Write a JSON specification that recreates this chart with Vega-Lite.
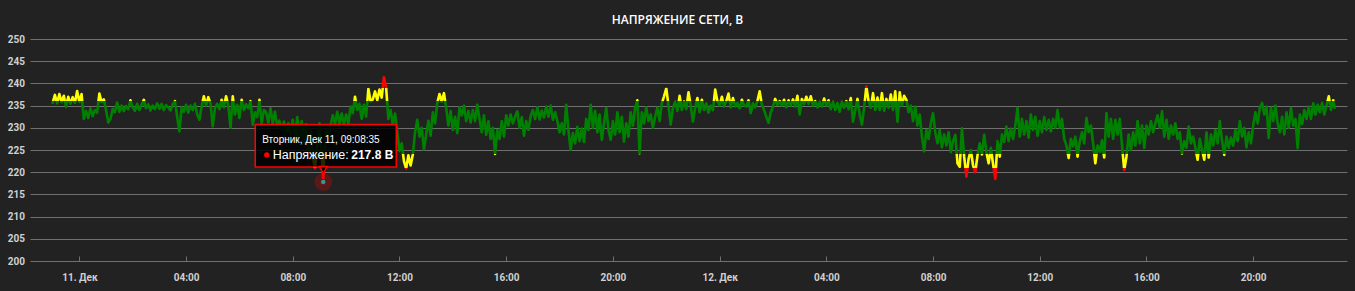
{
  "$schema": "https://vega.github.io/schema/vega-lite/v6.json",
  "width": 1317,
  "height": 222,
  "autosize": "none",
  "padding": {"left": 30, "top": 39, "right": 8, "bottom": 30},
  "background": "#222222",
  "title": {"text": "НАПРЯЖЕНИЕ СЕТИ, В", "font": "Open Sans", "fontSize": 12, "fontWeight": 600, "color": "#ffffff", "anchor": "middle", "frame": "group", "offset": 7, "dx": -11},
  "config": {
    "view": {"stroke": null},
    "axis": {"labelFont": "Roboto", "labelFontSize": 10, "labelFontWeight": "bold", "labelColor": "#d0d0d0", "title": null}
  },
  "datasets": {
    "hover": [{"t": "2018-12-11T09:08:35", "v": 217.8}],
    "voltage": [
{"t":"2018-12-10T23:00","v":235.6},{"t":"2018-12-10T23:05","v":237.4},{"t":"2018-12-10T23:10","v":235.5},{"t":"2018-12-10T23:15","v":237.6},{"t":"2018-12-10T23:20","v":235.8},{"t":"2018-12-10T23:25","v":237.2},{"t":"2018-12-10T23:30","v":234.7},{"t":"2018-12-10T23:35","v":237.0},{"t":"2018-12-10T23:40","v":235.4},{"t":"2018-12-10T23:45","v":236.9},{"t":"2018-12-10T23:50","v":235.6},{"t":"2018-12-10T23:55","v":238.3},
{"t":"2018-12-11T00:00","v":235.8},{"t":"2018-12-11T00:05","v":237.6},{"t":"2018-12-11T00:10","v":232.0},{"t":"2018-12-11T00:15","v":233.8},{"t":"2018-12-11T00:20","v":232.2},{"t":"2018-12-11T00:25","v":234.4},{"t":"2018-12-11T00:30","v":232.6},{"t":"2018-12-11T00:35","v":234.0},{"t":"2018-12-11T00:40","v":233.4},{"t":"2018-12-11T00:45","v":237.7},{"t":"2018-12-11T00:50","v":235.8},{"t":"2018-12-11T00:55","v":236.4},
{"t":"2018-12-11T01:00","v":234.0},{"t":"2018-12-11T01:05","v":231.2},{"t":"2018-12-11T01:10","v":232.0},{"t":"2018-12-11T01:15","v":234.3},{"t":"2018-12-11T01:20","v":233.5},{"t":"2018-12-11T01:25","v":235.7},{"t":"2018-12-11T01:30","v":233.6},{"t":"2018-12-11T01:35","v":235.0},{"t":"2018-12-11T01:40","v":233.8},{"t":"2018-12-11T01:45","v":234.9},{"t":"2018-12-11T01:50","v":234.2},{"t":"2018-12-11T01:55","v":236.2},
{"t":"2018-12-11T02:00","v":234.6},{"t":"2018-12-11T02:05","v":233.8},{"t":"2018-12-11T02:10","v":235.4},{"t":"2018-12-11T02:15","v":234.0},{"t":"2018-12-11T02:20","v":235.2},{"t":"2018-12-11T02:25","v":236.3},{"t":"2018-12-11T02:30","v":234.4},{"t":"2018-12-11T02:35","v":235.3},{"t":"2018-12-11T02:40","v":233.9},{"t":"2018-12-11T02:45","v":235.0},{"t":"2018-12-11T02:50","v":234.2},{"t":"2018-12-11T02:55","v":235.5},
{"t":"2018-12-11T03:00","v":234.3},{"t":"2018-12-11T03:05","v":235.4},{"t":"2018-12-11T03:10","v":234.0},{"t":"2018-12-11T03:15","v":235.1},{"t":"2018-12-11T03:20","v":234.6},{"t":"2018-12-11T03:25","v":233.9},{"t":"2018-12-11T03:30","v":235.3},{"t":"2018-12-11T03:35","v":236.0},{"t":"2018-12-11T03:40","v":232.5},{"t":"2018-12-11T03:45","v":229.2},{"t":"2018-12-11T03:50","v":234.6},{"t":"2018-12-11T03:55","v":233.6},
{"t":"2018-12-11T04:00","v":235.2},{"t":"2018-12-11T04:05","v":233.4},{"t":"2018-12-11T04:10","v":235.0},{"t":"2018-12-11T04:15","v":234.0},{"t":"2018-12-11T04:20","v":235.4},{"t":"2018-12-11T04:25","v":233.0},{"t":"2018-12-11T04:30","v":231.8},{"t":"2018-12-11T04:35","v":234.8},{"t":"2018-12-11T04:40","v":237.1},{"t":"2018-12-11T04:45","v":235.0},{"t":"2018-12-11T04:50","v":236.9},{"t":"2018-12-11T04:55","v":235.4},
{"t":"2018-12-11T05:00","v":230.3},{"t":"2018-12-11T05:05","v":234.5},{"t":"2018-12-11T05:10","v":235.4},{"t":"2018-12-11T05:15","v":234.2},{"t":"2018-12-11T05:20","v":236.3},{"t":"2018-12-11T05:25","v":234.6},{"t":"2018-12-11T05:30","v":237.1},{"t":"2018-12-11T05:35","v":235.0},{"t":"2018-12-11T05:40","v":230.0},{"t":"2018-12-11T05:45","v":237.1},{"t":"2018-12-11T05:50","v":233.0},{"t":"2018-12-11T05:55","v":235.2},
{"t":"2018-12-11T06:00","v":232.2},{"t":"2018-12-11T06:05","v":236.3},{"t":"2018-12-11T06:10","v":234.0},{"t":"2018-12-11T06:15","v":235.3},{"t":"2018-12-11T06:20","v":234.4},{"t":"2018-12-11T06:25","v":236.0},{"t":"2018-12-11T06:30","v":230.7},{"t":"2018-12-11T06:35","v":233.5},{"t":"2018-12-11T06:40","v":232.4},{"t":"2018-12-11T06:45","v":236.3},{"t":"2018-12-11T06:50","v":231.0},{"t":"2018-12-11T06:55","v":234.0},
{"t":"2018-12-11T07:00","v":233.5},{"t":"2018-12-11T07:05","v":231.2},{"t":"2018-12-11T07:10","v":234.4},{"t":"2018-12-11T07:15","v":231.0},{"t":"2018-12-11T07:20","v":233.6},{"t":"2018-12-11T07:25","v":230.2},{"t":"2018-12-11T07:30","v":231.6},{"t":"2018-12-11T07:35","v":229.6},{"t":"2018-12-11T07:40","v":231.4},{"t":"2018-12-11T07:45","v":229.0},{"t":"2018-12-11T07:50","v":231.0},{"t":"2018-12-11T07:55","v":228.5},
{"t":"2018-12-11T08:00","v":231.8},{"t":"2018-12-11T08:05","v":227.5},{"t":"2018-12-11T08:10","v":232.4},{"t":"2018-12-11T08:15","v":228.0},{"t":"2018-12-11T08:20","v":231.5},{"t":"2018-12-11T08:25","v":226.4},{"t":"2018-12-11T08:30","v":230.8},{"t":"2018-12-11T08:35","v":225.0},{"t":"2018-12-11T08:40","v":229.5},{"t":"2018-12-11T08:45","v":223.5},{"t":"2018-12-11T08:50","v":220.9},{"t":"2018-12-11T08:55","v":226.0},
{"t":"2018-12-11T09:00","v":231.0},{"t":"2018-12-11T09:05","v":224.0},{"t":"2018-12-11T09:08:35","v":217.8},{"t":"2018-12-11T09:10","v":223.0},{"t":"2018-12-11T09:15","v":229.5},{"t":"2018-12-11T09:20","v":227.0},{"t":"2018-12-11T09:25","v":230.5},{"t":"2018-12-11T09:30","v":232.8},{"t":"2018-12-11T09:35","v":230.8},{"t":"2018-12-11T09:40","v":233.6},{"t":"2018-12-11T09:45","v":231.0},{"t":"2018-12-11T09:50","v":233.2},{"t":"2018-12-11T09:55","v":230.8},
{"t":"2018-12-11T10:00","v":233.0},{"t":"2018-12-11T10:05","v":230.9},{"t":"2018-12-11T10:10","v":234.8},{"t":"2018-12-11T10:15","v":233.3},{"t":"2018-12-11T10:20","v":237.0},{"t":"2018-12-11T10:25","v":234.0},{"t":"2018-12-11T10:30","v":235.4},{"t":"2018-12-11T10:35","v":232.0},{"t":"2018-12-11T10:40","v":235.2},{"t":"2018-12-11T10:45","v":232.5},{"t":"2018-12-11T10:50","v":238.8},{"t":"2018-12-11T10:55","v":236.0},
{"t":"2018-12-11T11:00","v":236.4},{"t":"2018-12-11T11:05","v":238.2},{"t":"2018-12-11T11:10","v":236.2},{"t":"2018-12-11T11:15","v":238.6},{"t":"2018-12-11T11:20","v":236.8},{"t":"2018-12-11T11:25","v":241.4},{"t":"2018-12-11T11:30","v":239.0},{"t":"2018-12-11T11:35","v":232.0},{"t":"2018-12-11T11:40","v":234.0},{"t":"2018-12-11T11:45","v":230.8},{"t":"2018-12-11T11:50","v":233.2},{"t":"2018-12-11T11:55","v":229.0},
{"t":"2018-12-11T12:00","v":224.8},{"t":"2018-12-11T12:05","v":226.5},{"t":"2018-12-11T12:10","v":222.5},{"t":"2018-12-11T12:15","v":220.8},{"t":"2018-12-11T12:20","v":223.8},{"t":"2018-12-11T12:25","v":221.5},{"t":"2018-12-11T12:30","v":224.0},{"t":"2018-12-11T12:35","v":229.0},{"t":"2018-12-11T12:40","v":231.8},{"t":"2018-12-11T12:45","v":228.0},{"t":"2018-12-11T12:50","v":230.0},{"t":"2018-12-11T12:55","v":225.1},
{"t":"2018-12-11T13:00","v":228.5},{"t":"2018-12-11T13:05","v":231.6},{"t":"2018-12-11T13:10","v":228.2},{"t":"2018-12-11T13:15","v":233.5},{"t":"2018-12-11T13:20","v":231.0},{"t":"2018-12-11T13:25","v":235.6},{"t":"2018-12-11T13:30","v":237.6},{"t":"2018-12-11T13:35","v":235.9},{"t":"2018-12-11T13:40","v":237.8},{"t":"2018-12-11T13:45","v":234.5},{"t":"2018-12-11T13:50","v":230.5},{"t":"2018-12-11T13:55","v":233.8},
{"t":"2018-12-11T14:00","v":229.5},{"t":"2018-12-11T14:05","v":232.5},{"t":"2018-12-11T14:10","v":228.8},{"t":"2018-12-11T14:15","v":234.6},{"t":"2018-12-11T14:20","v":232.8},{"t":"2018-12-11T14:25","v":235.0},{"t":"2018-12-11T14:30","v":231.5},{"t":"2018-12-11T14:35","v":233.8},{"t":"2018-12-11T14:40","v":231.2},{"t":"2018-12-11T14:45","v":234.0},{"t":"2018-12-11T14:50","v":231.5},{"t":"2018-12-11T14:55","v":235.2},
{"t":"2018-12-11T15:00","v":232.0},{"t":"2018-12-11T15:05","v":229.0},{"t":"2018-12-11T15:10","v":232.8},{"t":"2018-12-11T15:15","v":228.4},{"t":"2018-12-11T15:20","v":231.5},{"t":"2018-12-11T15:25","v":227.5},{"t":"2018-12-11T15:30","v":230.0},{"t":"2018-12-11T15:35","v":224.1},{"t":"2018-12-11T15:40","v":229.5},{"t":"2018-12-11T15:45","v":227.5},{"t":"2018-12-11T15:50","v":231.5},{"t":"2018-12-11T15:55","v":228.0},
{"t":"2018-12-11T16:00","v":232.8},{"t":"2018-12-11T16:05","v":230.5},{"t":"2018-12-11T16:10","v":233.0},{"t":"2018-12-11T16:15","v":231.0},{"t":"2018-12-11T16:20","v":232.5},{"t":"2018-12-11T16:25","v":233.7},{"t":"2018-12-11T16:30","v":230.0},{"t":"2018-12-11T16:35","v":232.4},{"t":"2018-12-11T16:40","v":228.2},{"t":"2018-12-11T16:45","v":231.5},{"t":"2018-12-11T16:50","v":229.5},{"t":"2018-12-11T16:55","v":232.6},
{"t":"2018-12-11T17:00","v":234.0},{"t":"2018-12-11T17:05","v":232.0},{"t":"2018-12-11T17:10","v":234.6},{"t":"2018-12-11T17:15","v":231.9},{"t":"2018-12-11T17:20","v":233.9},{"t":"2018-12-11T17:25","v":232.3},{"t":"2018-12-11T17:30","v":234.8},{"t":"2018-12-11T17:35","v":232.5},{"t":"2018-12-11T17:40","v":235.0},{"t":"2018-12-11T17:45","v":231.8},{"t":"2018-12-11T17:50","v":233.5},{"t":"2018-12-11T17:55","v":231.5},
{"t":"2018-12-11T18:00","v":229.0},{"t":"2018-12-11T18:05","v":231.0},{"t":"2018-12-11T18:10","v":228.5},{"t":"2018-12-11T18:15","v":235.2},{"t":"2018-12-11T18:20","v":229.5},{"t":"2018-12-11T18:25","v":225.0},{"t":"2018-12-11T18:30","v":228.8},{"t":"2018-12-11T18:35","v":226.5},{"t":"2018-12-11T18:40","v":230.2},{"t":"2018-12-11T18:45","v":227.0},{"t":"2018-12-11T18:50","v":229.8},{"t":"2018-12-11T18:55","v":226.8},
{"t":"2018-12-11T19:00","v":232.0},{"t":"2018-12-11T19:05","v":229.5},{"t":"2018-12-11T19:10","v":235.2},{"t":"2018-12-11T19:15","v":230.0},{"t":"2018-12-11T19:20","v":233.8},{"t":"2018-12-11T19:25","v":229.0},{"t":"2018-12-11T19:30","v":233.0},{"t":"2018-12-11T19:35","v":227.3},{"t":"2018-12-11T19:40","v":231.0},{"t":"2018-12-11T19:45","v":234.5},{"t":"2018-12-11T19:50","v":229.5},{"t":"2018-12-11T19:55","v":227.3},
{"t":"2018-12-11T20:00","v":231.5},{"t":"2018-12-11T20:05","v":228.5},{"t":"2018-12-11T20:10","v":233.5},{"t":"2018-12-11T20:15","v":229.0},{"t":"2018-12-11T20:20","v":232.5},{"t":"2018-12-11T20:25","v":226.9},{"t":"2018-12-11T20:30","v":231.0},{"t":"2018-12-11T20:35","v":228.0},{"t":"2018-12-11T20:40","v":233.5},{"t":"2018-12-11T20:45","v":230.5},{"t":"2018-12-11T20:50","v":234.5},{"t":"2018-12-11T20:55","v":236.2},
{"t":"2018-12-11T21:00","v":224.3},{"t":"2018-12-11T21:05","v":233.5},{"t":"2018-12-11T21:10","v":231.0},{"t":"2018-12-11T21:15","v":234.6},{"t":"2018-12-11T21:20","v":231.5},{"t":"2018-12-11T21:25","v":233.0},{"t":"2018-12-11T21:30","v":230.0},{"t":"2018-12-11T21:35","v":232.5},{"t":"2018-12-11T21:40","v":234.5},{"t":"2018-12-11T21:45","v":231.5},{"t":"2018-12-11T21:50","v":235.5},{"t":"2018-12-11T21:55","v":237.1},
{"t":"2018-12-11T22:00","v":238.9},{"t":"2018-12-11T22:05","v":235.0},{"t":"2018-12-11T22:10","v":230.7},{"t":"2018-12-11T22:15","v":234.5},{"t":"2018-12-11T22:20","v":235.8},{"t":"2018-12-11T22:25","v":233.8},{"t":"2018-12-11T22:30","v":237.2},{"t":"2018-12-11T22:35","v":234.0},{"t":"2018-12-11T22:40","v":235.9},{"t":"2018-12-11T22:45","v":234.2},{"t":"2018-12-11T22:50","v":238.0},{"t":"2018-12-11T22:55","v":235.0},
{"t":"2018-12-11T23:00","v":231.4},{"t":"2018-12-11T23:05","v":234.5},{"t":"2018-12-11T23:10","v":236.7},{"t":"2018-12-11T23:15","v":233.5},{"t":"2018-12-11T23:20","v":236.3},{"t":"2018-12-11T23:25","v":234.0},{"t":"2018-12-11T23:30","v":235.5},{"t":"2018-12-11T23:35","v":233.4},{"t":"2018-12-11T23:40","v":235.0},{"t":"2018-12-11T23:45","v":234.0},{"t":"2018-12-11T23:50","v":238.6},{"t":"2018-12-11T23:55","v":236.0},
{"t":"2018-12-12T00:00","v":235.0},{"t":"2018-12-12T00:05","v":237.0},{"t":"2018-12-12T00:10","v":234.8},{"t":"2018-12-12T00:15","v":236.0},{"t":"2018-12-12T00:20","v":237.7},{"t":"2018-12-12T00:25","v":234.6},{"t":"2018-12-12T00:30","v":236.7},{"t":"2018-12-12T00:35","v":234.8},{"t":"2018-12-12T00:40","v":235.6},{"t":"2018-12-12T00:45","v":234.4},{"t":"2018-12-12T00:50","v":236.3},{"t":"2018-12-12T00:55","v":235.0},
{"t":"2018-12-12T01:00","v":234.8},{"t":"2018-12-12T01:05","v":236.2},{"t":"2018-12-12T01:10","v":233.3},{"t":"2018-12-12T01:15","v":235.5},{"t":"2018-12-12T01:20","v":234.6},{"t":"2018-12-12T01:25","v":236.0},{"t":"2018-12-12T01:30","v":238.2},{"t":"2018-12-12T01:35","v":235.2},{"t":"2018-12-12T01:40","v":234.0},{"t":"2018-12-12T01:45","v":232.5},{"t":"2018-12-12T01:50","v":231.1},{"t":"2018-12-12T01:55","v":233.5},
{"t":"2018-12-12T02:00","v":234.8},{"t":"2018-12-12T02:05","v":236.5},{"t":"2018-12-12T02:10","v":235.2},{"t":"2018-12-12T02:15","v":236.0},{"t":"2018-12-12T02:20","v":235.0},{"t":"2018-12-12T02:25","v":236.3},{"t":"2018-12-12T02:30","v":234.6},{"t":"2018-12-12T02:35","v":236.2},{"t":"2018-12-12T02:40","v":235.0},{"t":"2018-12-12T02:45","v":236.4},{"t":"2018-12-12T02:50","v":234.8},{"t":"2018-12-12T02:55","v":237.2},
{"t":"2018-12-12T03:00","v":233.0},{"t":"2018-12-12T03:05","v":236.5},{"t":"2018-12-12T03:10","v":235.3},{"t":"2018-12-12T03:15","v":237.0},{"t":"2018-12-12T03:20","v":235.4},{"t":"2018-12-12T03:25","v":237.1},{"t":"2018-12-12T03:30","v":235.0},{"t":"2018-12-12T03:35","v":236.0},{"t":"2018-12-12T03:40","v":234.6},{"t":"2018-12-12T03:45","v":235.8},{"t":"2018-12-12T03:50","v":234.8},{"t":"2018-12-12T03:55","v":236.6},
{"t":"2018-12-12T04:00","v":235.0},{"t":"2018-12-12T04:05","v":236.2},{"t":"2018-12-12T04:10","v":234.2},{"t":"2018-12-12T04:15","v":235.8},{"t":"2018-12-12T04:20","v":234.0},{"t":"2018-12-12T04:25","v":235.6},{"t":"2018-12-12T04:30","v":233.6},{"t":"2018-12-12T04:35","v":235.8},{"t":"2018-12-12T04:40","v":234.5},{"t":"2018-12-12T04:45","v":236.0},{"t":"2018-12-12T04:50","v":234.2},{"t":"2018-12-12T04:55","v":236.7},
{"t":"2018-12-12T05:00","v":231.4},{"t":"2018-12-12T05:05","v":234.0},{"t":"2018-12-12T05:10","v":236.5},{"t":"2018-12-12T05:15","v":233.0},{"t":"2018-12-12T05:20","v":230.7},{"t":"2018-12-12T05:25","v":234.5},{"t":"2018-12-12T05:30","v":239.3},{"t":"2018-12-12T05:35","v":236.0},{"t":"2018-12-12T05:40","v":234.5},{"t":"2018-12-12T05:45","v":237.8},{"t":"2018-12-12T05:50","v":234.0},{"t":"2018-12-12T05:55","v":236.8},
{"t":"2018-12-12T06:00","v":234.0},{"t":"2018-12-12T06:05","v":237.8},{"t":"2018-12-12T06:10","v":233.8},{"t":"2018-12-12T06:15","v":236.5},{"t":"2018-12-12T06:20","v":234.5},{"t":"2018-12-12T06:25","v":237.5},{"t":"2018-12-12T06:30","v":234.0},{"t":"2018-12-12T06:35","v":238.2},{"t":"2018-12-12T06:40","v":231.4},{"t":"2018-12-12T06:45","v":238.0},{"t":"2018-12-12T06:50","v":235.0},{"t":"2018-12-12T06:55","v":237.2},
{"t":"2018-12-12T07:00","v":236.3},{"t":"2018-12-12T07:05","v":233.5},{"t":"2018-12-12T07:10","v":235.0},{"t":"2018-12-12T07:15","v":231.5},{"t":"2018-12-12T07:20","v":234.8},{"t":"2018-12-12T07:25","v":230.5},{"t":"2018-12-12T07:30","v":233.0},{"t":"2018-12-12T07:35","v":228.0},{"t":"2018-12-12T07:40","v":224.7},{"t":"2018-12-12T07:45","v":229.5},{"t":"2018-12-12T07:50","v":227.5},{"t":"2018-12-12T07:55","v":231.0},
{"t":"2018-12-12T08:00","v":233.3},{"t":"2018-12-12T08:05","v":229.0},{"t":"2018-12-12T08:10","v":226.5},{"t":"2018-12-12T08:15","v":229.5},{"t":"2018-12-12T08:20","v":225.6},{"t":"2018-12-12T08:25","v":228.5},{"t":"2018-12-12T08:30","v":226.0},{"t":"2018-12-12T08:35","v":229.0},{"t":"2018-12-12T08:40","v":224.5},{"t":"2018-12-12T08:45","v":227.0},{"t":"2018-12-12T08:50","v":228.4},{"t":"2018-12-12T08:55","v":222.0},
{"t":"2018-12-12T09:00","v":221.2},{"t":"2018-12-12T09:05","v":229.9},{"t":"2018-12-12T09:10","v":223.5},{"t":"2018-12-12T09:15","v":219.0},{"t":"2018-12-12T09:20","v":223.0},{"t":"2018-12-12T09:25","v":225.0},{"t":"2018-12-12T09:30","v":221.5},{"t":"2018-12-12T09:35","v":220.0},{"t":"2018-12-12T09:40","v":223.8},{"t":"2018-12-12T09:45","v":226.5},{"t":"2018-12-12T09:50","v":224.0},{"t":"2018-12-12T09:55","v":228.4},
{"t":"2018-12-12T10:00","v":224.5},{"t":"2018-12-12T10:05","v":222.0},{"t":"2018-12-12T10:10","v":225.5},{"t":"2018-12-12T10:15","v":221.8},{"t":"2018-12-12T10:20","v":218.5},{"t":"2018-12-12T10:25","v":227.0},{"t":"2018-12-12T10:30","v":223.5},{"t":"2018-12-12T10:35","v":228.5},{"t":"2018-12-12T10:40","v":226.8},{"t":"2018-12-12T10:45","v":230.3},{"t":"2018-12-12T10:50","v":227.0},{"t":"2018-12-12T10:55","v":229.8},
{"t":"2018-12-12T11:00","v":227.5},{"t":"2018-12-12T11:05","v":230.5},{"t":"2018-12-12T11:10","v":234.5},{"t":"2018-12-12T11:15","v":228.0},{"t":"2018-12-12T11:20","v":232.0},{"t":"2018-12-12T11:25","v":228.5},{"t":"2018-12-12T11:30","v":231.5},{"t":"2018-12-12T11:35","v":227.8},{"t":"2018-12-12T11:40","v":233.0},{"t":"2018-12-12T11:45","v":229.5},{"t":"2018-12-12T11:50","v":232.5},{"t":"2018-12-12T11:55","v":228.2},
{"t":"2018-12-12T12:00","v":231.5},{"t":"2018-12-12T12:05","v":229.0},{"t":"2018-12-12T12:10","v":232.4},{"t":"2018-12-12T12:15","v":229.5},{"t":"2018-12-12T12:20","v":231.8},{"t":"2018-12-12T12:25","v":229.2},{"t":"2018-12-12T12:30","v":232.0},{"t":"2018-12-12T12:35","v":230.0},{"t":"2018-12-12T12:40","v":234.0},{"t":"2018-12-12T12:45","v":230.0},{"t":"2018-12-12T12:50","v":232.0},{"t":"2018-12-12T12:55","v":227.5},
{"t":"2018-12-12T13:00","v":226.0},{"t":"2018-12-12T13:05","v":223.2},{"t":"2018-12-12T13:10","v":227.5},{"t":"2018-12-12T13:15","v":225.8},{"t":"2018-12-12T13:20","v":228.0},{"t":"2018-12-12T13:25","v":223.5},{"t":"2018-12-12T13:30","v":227.0},{"t":"2018-12-12T13:35","v":229.0},{"t":"2018-12-12T13:40","v":226.5},{"t":"2018-12-12T13:45","v":232.2},{"t":"2018-12-12T13:50","v":229.0},{"t":"2018-12-12T13:55","v":230.5},
{"t":"2018-12-12T14:00","v":226.5},{"t":"2018-12-12T14:05","v":222.0},{"t":"2018-12-12T14:10","v":226.0},{"t":"2018-12-12T14:15","v":224.6},{"t":"2018-12-12T14:20","v":227.2},{"t":"2018-12-12T14:25","v":223.3},{"t":"2018-12-12T14:30","v":233.3},{"t":"2018-12-12T14:35","v":228.0},{"t":"2018-12-12T14:40","v":232.0},{"t":"2018-12-12T14:45","v":227.5},{"t":"2018-12-12T14:50","v":231.8},{"t":"2018-12-12T14:55","v":228.5},
{"t":"2018-12-12T15:00","v":232.0},{"t":"2018-12-12T15:05","v":226.0},{"t":"2018-12-12T15:10","v":220.5},{"t":"2018-12-12T15:15","v":223.5},{"t":"2018-12-12T15:20","v":228.5},{"t":"2018-12-12T15:25","v":225.0},{"t":"2018-12-12T15:30","v":229.0},{"t":"2018-12-12T15:35","v":226.0},{"t":"2018-12-12T15:40","v":231.5},{"t":"2018-12-12T15:45","v":226.5},{"t":"2018-12-12T15:50","v":230.5},{"t":"2018-12-12T15:55","v":225.5},
{"t":"2018-12-12T16:00","v":230.5},{"t":"2018-12-12T16:05","v":228.5},{"t":"2018-12-12T16:10","v":231.5},{"t":"2018-12-12T16:15","v":229.0},{"t":"2018-12-12T16:20","v":231.0},{"t":"2018-12-12T16:25","v":232.8},{"t":"2018-12-12T16:30","v":230.0},{"t":"2018-12-12T16:35","v":233.7},{"t":"2018-12-12T16:40","v":228.0},{"t":"2018-12-12T16:45","v":231.8},{"t":"2018-12-12T16:50","v":227.5},{"t":"2018-12-12T16:55","v":230.5},
{"t":"2018-12-12T17:00","v":228.5},{"t":"2018-12-12T17:05","v":231.0},{"t":"2018-12-12T17:10","v":227.5},{"t":"2018-12-12T17:15","v":229.0},{"t":"2018-12-12T17:20","v":224.2},{"t":"2018-12-12T17:25","v":227.0},{"t":"2018-12-12T17:30","v":225.5},{"t":"2018-12-12T17:35","v":230.3},{"t":"2018-12-12T17:40","v":226.5},{"t":"2018-12-12T17:45","v":228.0},{"t":"2018-12-12T17:50","v":225.5},{"t":"2018-12-12T17:55","v":222.8},
{"t":"2018-12-12T18:00","v":227.5},{"t":"2018-12-12T18:05","v":225.0},{"t":"2018-12-12T18:10","v":222.8},{"t":"2018-12-12T18:15","v":229.0},{"t":"2018-12-12T18:20","v":223.3},{"t":"2018-12-12T18:25","v":228.5},{"t":"2018-12-12T18:30","v":226.0},{"t":"2018-12-12T18:35","v":229.5},{"t":"2018-12-12T18:40","v":226.5},{"t":"2018-12-12T18:45","v":231.5},{"t":"2018-12-12T18:50","v":227.0},{"t":"2018-12-12T18:55","v":223.9},
{"t":"2018-12-12T19:00","v":228.0},{"t":"2018-12-12T19:05","v":225.5},{"t":"2018-12-12T19:10","v":227.8},{"t":"2018-12-12T19:15","v":226.0},{"t":"2018-12-12T19:20","v":229.5},{"t":"2018-12-12T19:25","v":227.0},{"t":"2018-12-12T19:30","v":231.5},{"t":"2018-12-12T19:35","v":228.0},{"t":"2018-12-12T19:40","v":230.0},{"t":"2018-12-12T19:45","v":225.6},{"t":"2018-12-12T19:50","v":229.0},{"t":"2018-12-12T19:55","v":226.5},
{"t":"2018-12-12T20:00","v":230.5},{"t":"2018-12-12T20:05","v":233.5},{"t":"2018-12-12T20:10","v":231.0},{"t":"2018-12-12T20:15","v":234.5},{"t":"2018-12-12T20:20","v":235.6},{"t":"2018-12-12T20:25","v":233.0},{"t":"2018-12-12T20:30","v":234.8},{"t":"2018-12-12T20:35","v":227.7},{"t":"2018-12-12T20:40","v":234.5},{"t":"2018-12-12T20:45","v":231.5},{"t":"2018-12-12T20:50","v":235.0},{"t":"2018-12-12T20:55","v":231.0},
{"t":"2018-12-12T21:00","v":229.0},{"t":"2018-12-12T21:05","v":232.5},{"t":"2018-12-12T21:10","v":228.5},{"t":"2018-12-12T21:15","v":233.5},{"t":"2018-12-12T21:20","v":230.0},{"t":"2018-12-12T21:25","v":234.5},{"t":"2018-12-12T21:30","v":230.5},{"t":"2018-12-12T21:35","v":232.0},{"t":"2018-12-12T21:40","v":225.4},{"t":"2018-12-12T21:45","v":233.0},{"t":"2018-12-12T21:50","v":230.8},{"t":"2018-12-12T21:55","v":234.0},
{"t":"2018-12-12T22:00","v":232.0},{"t":"2018-12-12T22:05","v":234.8},{"t":"2018-12-12T22:10","v":232.0},{"t":"2018-12-12T22:15","v":235.5},{"t":"2018-12-12T22:20","v":233.0},{"t":"2018-12-12T22:25","v":235.2},{"t":"2018-12-12T22:30","v":233.5},{"t":"2018-12-12T22:35","v":235.6},{"t":"2018-12-12T22:40","v":233.0},{"t":"2018-12-12T22:45","v":235.0},{"t":"2018-12-12T22:50","v":237.1},{"t":"2018-12-12T22:55","v":234.0},
{"t":"2018-12-12T23:00","v":236.2},{"t":"2018-12-12T23:03","v":234.5}
    ]
  },
  "encoding": {
    "x": {
      "field": "t", "type": "temporal",
      "scale": {"domain": [{"year": 2018, "month": 12, "date": 10, "hours": 22, "minutes": 9}, {"year": 2018, "month": 12, "date": 12, "hours": 23, "minutes": 31}]},
      "axis": {
        "values": [
          {"year": 2018, "month": 12, "date": 11, "hours": 0}, {"year": 2018, "month": 12, "date": 11, "hours": 4}, {"year": 2018, "month": 12, "date": 11, "hours": 8}, {"year": 2018, "month": 12, "date": 11, "hours": 12}, {"year": 2018, "month": 12, "date": 11, "hours": 16}, {"year": 2018, "month": 12, "date": 11, "hours": 20},
          {"year": 2018, "month": 12, "date": 12, "hours": 0}, {"year": 2018, "month": 12, "date": 12, "hours": 4}, {"year": 2018, "month": 12, "date": 12, "hours": 8}, {"year": 2018, "month": 12, "date": 12, "hours": 12}, {"year": 2018, "month": 12, "date": 12, "hours": 16}, {"year": 2018, "month": 12, "date": 12, "hours": 20}
        ],
        "labelExpr": "hours(datum.value) == 0 ? date(datum.value) + '. Дек' : timeFormat(datum.value, '%H:%M')",
        "grid": false, "domain": false, "ticks": true, "tickColor": "#707070", "tickSize": 5, "offset": -5, "labelPadding": 11, "labelFlush": false
      }
    },
    "y": {
      "field": "v", "type": "quantitative",
      "scale": {"domain": [200, 250], "zero": false, "nice": false},
      "axis": {"values": [200, 205, 210, 215, 220, 225, 230, 235, 240, 245, 250], "grid": true, "gridColor": "#707070", "gridWidth": 1, "domain": false, "ticks": false, "labelPadding": 5.5}
    }
  },
  "layer": [
    {
      "data": {"name": "voltage"},
      "mark": {"type": "line", "strokeWidth": 2.6, "strokeJoin": "round", "strokeCap": "round", "interpolate": "linear",
        "color": {"gradient": "linear", "x1": 0, "y1": 0, "x2": 0, "y2": 1, "stops": [
          {"offset": 0, "color": "#ff0000"}, {"offset": 0.1017, "color": "#ff0000"},
          {"offset": 0.1017, "color": "#ffff00"}, {"offset": 0.2288, "color": "#ffff00"},
          {"offset": 0.2288, "color": "#008000"}, {"offset": 0.7373, "color": "#008000"},
          {"offset": 0.7373, "color": "#ffff00"}, {"offset": 0.8644, "color": "#ffff00"},
          {"offset": 0.8644, "color": "#ff0000"}, {"offset": 1, "color": "#ff0000"}]}}
    },
    {
      "data": {"name": "hover"},
      "mark": {"type": "point", "shape": "circle", "filled": true, "size": 314, "color": "#ff0000", "opacity": 0.25}
    },
    {
      "data": {"name": "hover"},
      "mark": {"type": "point", "shape": "circle", "filled": true, "size": 30, "fill": "#2f9a9a", "stroke": "#6a1010", "strokeWidth": 1, "opacity": 1}
    },
    {
      "data": {"name": "hover"},
      "mark": {"type": "rect", "fill": "#000000", "fillOpacity": 0.85, "stroke": "#ff0000", "strokeWidth": 1.5, "xOffset": -68, "x2Offset": 73, "yOffset": -57.5, "y2Offset": -15},
      "encoding": {"x2": {"field": "t"}, "y2": {"field": "v"}}
    },
    {
      "data": {"name": "hover"},
      "mark": {"type": "point", "shape": "triangle-down", "filled": true, "size": 60, "fill": "#000000", "stroke": "#ff0000", "strokeWidth": 1.5, "opacity": 1, "yOffset": -12}
    },
    {
      "data": {"name": "hover"},
      "mark": {"type": "text", "text": "Вторник, Дек 11, 09:08:35", "align": "left", "baseline": "middle", "dx": -61, "dy": -42, "font": "Liberation Sans", "fontSize": 10, "color": "#ffffff"}
    },
    {
      "data": {"name": "hover"},
      "mark": {"type": "point", "shape": "circle", "filled": true, "size": 28, "color": "#ff0000", "opacity": 1, "xOffset": -56.5, "yOffset": -27}
    },
    {
      "data": {"name": "hover"},
      "mark": {"type": "text", "text": "Напряжение:", "align": "left", "baseline": "middle", "dx": -50.5, "dy": -27, "font": "Liberation Sans", "fontSize": 12.5, "color": "#ffffff"}
    },
    {
      "data": {"name": "hover"},
      "mark": {"type": "text", "text": "217.8 В", "align": "left", "baseline": "middle", "dx": 28, "dy": -27, "font": "Liberation Sans", "fontSize": 12, "fontWeight": "bold", "color": "#ffffff"}
    }
  ]
}
